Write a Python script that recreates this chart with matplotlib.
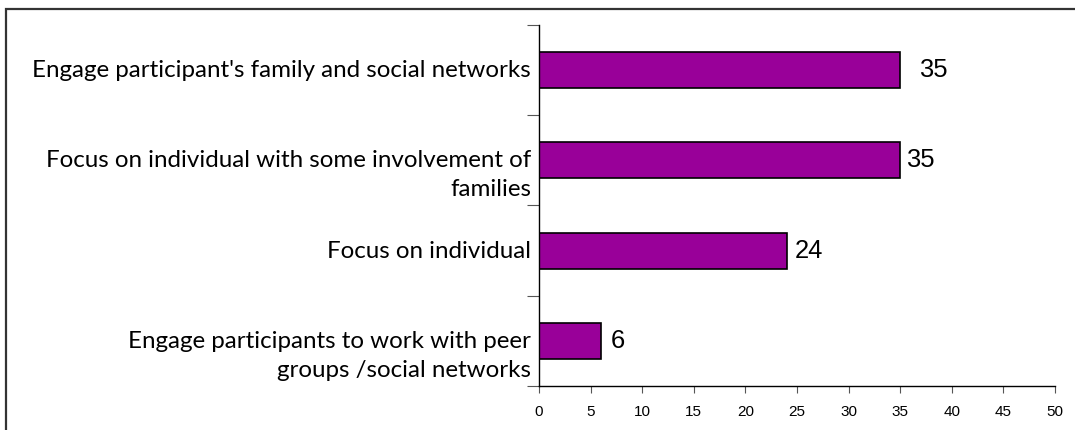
import numpy as np
import matplotlib
matplotlib.use('Agg')
import matplotlib.pyplot as plt
import matplotlib.transforms as mtrans
from matplotlib.patches import Rectangle

# Data (top to bottom as shown)
categories = [
    "Engage participant's family and social networks",
    "Focus on individual with some involvement of\nfamilies",
    "Focus on individual",
    "Engage participants to work with peer\ngroups /social networks",
]
values = [35, 35, 24, 6]
label_gap_px = [19, 6, 8, 10]   # gap between bar end and value label
xticks = np.arange(0, 55, 5)

bar_color = '#990099'

fig = plt.figure(figsize=(10.75, 4.3), dpi=100)
ax = fig.add_axes([0.5014, 0.1023, 0.48, 0.8396])

# outer frame, cut by the image edge at right and bottom
fig.patches.append(Rectangle((0.0056, -0.05), 1.1, 1.029, transform=fig.transFigure,
                             fill=False, ec='#333333', lw=1.6))

ypos = np.arange(len(values))
ax.barh(ypos, values, height=0.4, color=bar_color, edgecolor='black', linewidth=1.2)

ax.set_xlim(0, 50)
ax.set_ylim(len(values) - 0.5, -0.5)
ax.set_xticks(xticks)
ax.set_xticklabels([str(t) for t in xticks], fontsize=11, family='Liberation Sans')
ax.set_yticks(np.arange(len(values) + 1) - 0.5)
ax.set_yticklabels([])
ax.tick_params(axis='x', length=5, color='#555555', pad=9)
ax.tick_params(axis='y', length=9, color='#555555')
for s in ['top', 'right']:
    ax.spines[s].set_visible(False)
for s in ['left', 'bottom']:
    ax.spines[s].set_color('black')
    ax.spines[s].set_linewidth(1)

# value labels
for y, v, gap in zip(ypos, values, label_gap_px):
    ax.annotate(str(v), (v, y), xytext=(gap * 0.72, 0), textcoords='offset points',
                va='center', ha='left', fontsize=18.4, family='Liberation Sans')

# category labels: first line centred on the bar, extra lines below
blend = mtrans.blended_transform_factory(ax.transAxes, ax.transData)
for y, cat in zip(ypos, categories):
    tr = mtrans.offset_copy(blend, fig=fig, x=-8 / 100, y=10 / 100, units='inches')
    ax.text(0, y, cat, transform=tr, ha='right', va='top', multialignment='right',
            fontsize=17.4, family=['Lato', 'DejaVu Sans'], linespacing=1.45)

fig.savefig('out.png', dpi=100)
